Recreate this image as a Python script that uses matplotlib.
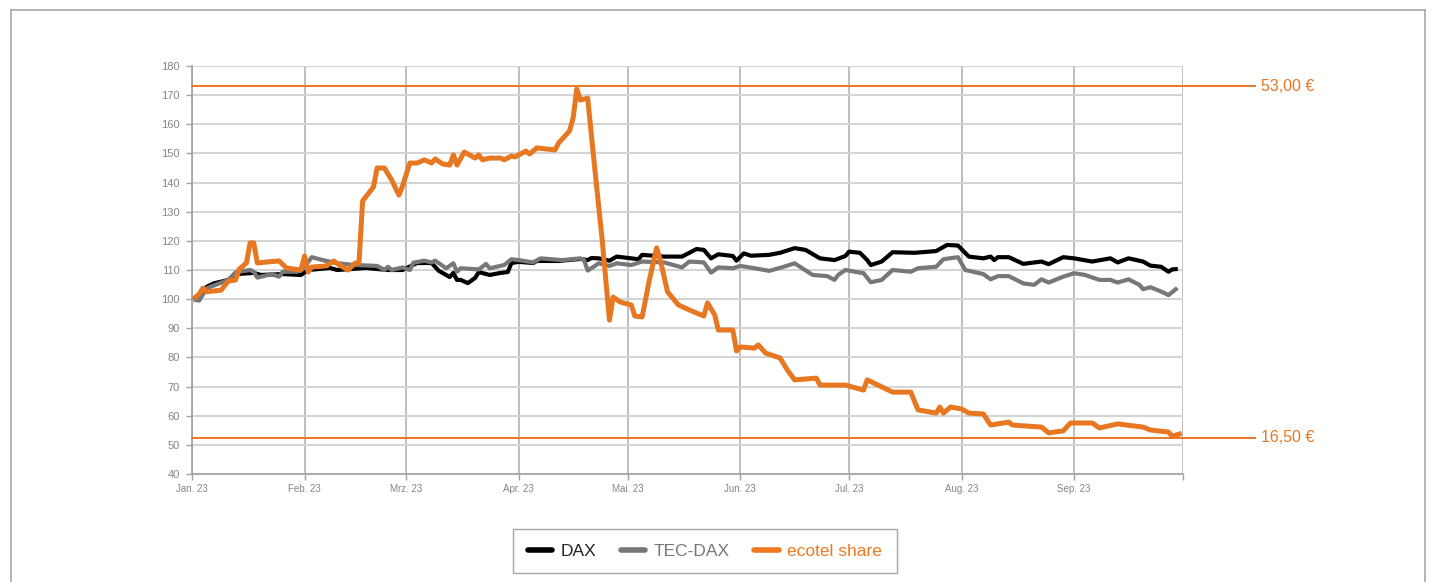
import numpy as np
import pandas as pd
import matplotlib
matplotlib.use("Agg")
import matplotlib.pyplot as plt
from matplotlib.lines import Line2D

# day offsets from 2023-01-01 and index values (start = 100)
dax_days = [1, 4, 6, 10, 12, 17, 19, 25, 30, 32, 38, 40, 48, 54, 58, 62, 66, 68, 71, 72,
            73, 74, 76, 78, 79, 82, 85, 87, 88, 90, 94, 95, 101, 107, 109, 110, 112, 115,
            117, 123, 124, 130, 135, 139, 141, 143, 145, 149, 150, 152, 154, 159, 162, 166,
            169, 173, 177, 180, 181, 184, 186, 187, 190, 193, 199, 205, 208, 211, 214, 218,
            220, 221, 222, 225, 229, 234, 236, 240, 243, 248, 253, 255, 258, 262, 264, 267,
            269, 270, 271]
dax_vals = [100.3, 104.2, 105.4, 106.6, 108.6, 109.0, 108.3, 108.6, 108.3, 110.0, 110.7,
            110.0, 110.7, 110.0, 110.0, 112.4, 112.4, 109.7, 107.6, 109.0, 106.6, 106.6,
            105.5, 107.3, 109.3, 108.3, 109.0, 109.3, 112.4, 112.8, 112.4, 113.1, 113.1,
            113.8, 113.4, 114.1, 114.0, 113.2, 114.6, 113.7, 115.2, 114.6, 114.6, 117.2,
            116.9, 114.0, 115.4, 114.8, 113.2, 115.7, 114.9, 115.2, 115.9, 117.5, 116.9,
            114.0, 113.4, 114.8, 116.3, 115.9, 113.4, 111.7, 112.9, 116.1, 115.9, 116.5,
            118.6, 118.4, 114.6, 114.0, 114.6, 113.4, 114.4, 114.4, 112.1, 112.9, 112.0,
            114.4, 114.0, 112.9, 114.0, 112.6, 114.0, 112.9, 111.5, 111.1, 109.4, 110.2,
            110.3]

tec_days = [1, 2, 4, 10, 12, 16, 17, 18, 22, 24, 25, 29, 31, 33, 36, 40, 45, 51, 53, 54,
            55, 58, 60, 61, 64, 66, 67, 70, 72, 73, 74, 79, 81, 82, 86, 88, 90, 94, 96,
            102, 107, 108, 109, 111, 112, 115, 117, 121, 124, 130, 135, 137, 141, 143, 145,
            149, 151, 155, 159, 163, 166, 171, 175, 177, 178, 180, 184, 185, 187, 190, 193,
            198, 200, 205, 207, 211, 213, 218, 220, 222, 225, 229, 232, 234, 236, 240, 243,
            246, 250, 253, 255, 258, 261, 262, 264, 267, 269, 271]
tec_vals = [99.7, 99.5, 103.7, 106.6, 109.2, 110.0, 109.4, 107.4, 108.6, 107.7, 109.4,
            109.4, 111.1, 114.4, 113.4, 112.3, 111.7, 111.4, 110.0, 111.1, 110.0, 110.9,
            110.0, 112.5, 113.2, 112.6, 113.2, 110.6, 112.3, 109.4, 110.6, 110.2, 112.1,
            110.6, 111.7, 113.7, 113.4, 112.6, 114.0, 113.4, 114.0, 113.4, 109.8, 111.4,
            112.3, 111.4, 112.3, 111.7, 112.9, 112.6, 110.9, 112.9, 112.6, 109.1, 110.9,
            110.6, 111.4, 110.6, 109.7, 111.1, 112.3, 108.3, 107.9, 106.6, 108.3, 110.0,
            109.1, 108.9, 105.8, 106.6, 110.0, 109.4, 110.6, 111.1, 113.7, 114.4, 110.0,
            108.6, 106.8, 107.9, 107.9, 105.4, 104.9, 106.8, 105.7, 107.7, 108.9, 108.3,
            106.6, 106.6, 105.7, 106.8, 104.9, 103.4, 104.1, 102.6, 101.4, 103.4]

eco_days = [1, 2, 3, 4, 6, 8, 10, 12, 13, 15, 16, 17, 18, 21, 24, 26, 30, 31, 32, 33, 37,
            39, 41, 43, 45, 46, 47, 50, 51, 53, 55, 57, 58, 60, 62, 64, 66, 67, 69, 71, 72,
            73, 75, 77, 78, 79, 80, 82, 85, 86, 88, 89, 90, 92, 93, 95, 100, 101, 104, 105,
            106, 107, 109, 111, 113, 115, 116, 118, 121, 122, 124, 126, 128, 129, 131, 134,
            137, 141, 142, 144, 145, 149, 150, 151, 155, 156, 158, 162, 164, 166, 172, 173,
            177, 180, 185, 186, 193, 198, 200, 205, 206, 207, 209, 212, 214, 218, 220, 225,
            226, 234, 236, 240, 242, 248, 250, 255, 262, 264, 269, 270, 272]
eco_vals = [100.7, 101.8, 103.8, 102.5, 102.8, 103.1, 106.2, 106.6, 110.3, 112.4, 119.3,
            119.3, 112.4, 112.8, 113.1, 110.7, 110.0, 114.8, 109.3, 111.0, 111.4, 113.1,
            111.4, 110.0, 112.4, 112.4, 133.7, 138.5, 145.0, 145.0, 140.9, 135.7, 138.8,
            146.7, 146.7, 147.8, 146.7, 148.1, 146.4, 146.0, 149.5, 146.0, 150.5, 149.1,
            148.4, 149.5, 147.8, 148.4, 148.4, 147.8, 149.1, 148.8, 149.5, 150.8, 149.8,
            151.9, 151.2, 153.6, 157.7, 162.2, 172.1, 168.3, 169.0, 144.3, 120.3, 92.8,
            100.7, 99.0, 98.0, 94.2, 93.9, 106.6, 117.6, 113.4, 102.5, 98.0, 96.3, 94.2,
            98.7, 94.6, 89.4, 89.4, 82.2, 83.6, 83.2, 84.3, 81.5, 79.8, 75.7, 72.3, 72.9,
            70.5, 70.5, 70.5, 68.8, 72.3, 68.1, 68.1, 62.0, 60.9, 63.0, 60.9, 63.0, 62.3,
            60.9, 60.6, 56.8, 57.8, 56.8, 56.1, 54.1, 54.8, 57.5, 57.5, 55.8, 57.2, 56.1,
            55.1, 54.4, 53.0, 53.7]

price_levels = [173.1, 52.4]
price_labels = ["53,00 €", "16,50 €"]
month_labels = ["Jan. 23", "Feb. 23", "Mrz. 23", "Apr. 23", "Mai. 23", "Jun. 23",
                "Jul. 23", "Aug. 23", "Sep. 23"]

start = pd.Timestamp("2023-01-01")
to_dates = lambda d: start + pd.to_timedelta(d, unit="D")

orange = "#E87722"
grey = "#777777"
tick_col = "#858585"

fig = plt.figure(figsize=(14.36, 5.82), dpi=100)
ax = fig.add_axes([192/1436, 1-474/582, 991/1436, 408/582])

ax.plot(to_dates(dax_days), dax_vals, color="black", lw=3.0, solid_joinstyle="round", zorder=3)
ax.plot(to_dates(tec_days), tec_vals, color=grey, lw=3.0, solid_joinstyle="round", zorder=3)
ax.plot(to_dates(eco_days), eco_vals, color=orange, lw=3.6, solid_joinstyle="round", zorder=4)

for lvl, lab in zip(price_levels, price_labels):
    ax.axhline(lvl, xmin=0, xmax=1.073, color=orange, lw=1.4, clip_on=False, zorder=5)
    ax.text(1.079, lvl, lab, transform=ax.get_yaxis_transform(), color=orange,
            fontsize=11.5, va="center", ha="left", family="Liberation Sans")

ax.set_ylim(40, 180)
ax.set_yticks(np.arange(40, 181, 10))
ax.set_xlim(start, pd.Timestamp("2023-10-01"))
ticks = pd.date_range("2023-01-01", "2023-10-01", freq="MS")
ax.set_xticks(ticks)
ax.set_xticklabels(month_labels + [""])

ax.grid(axis="y", color="#d4d4d4", lw=1.5, zorder=0)
ax.grid(axis="x", color="#b9b9b9", lw=1.3, zorder=0)
for s in ["top", "right"]:
    ax.spines[s].set_visible(False)
for s in ["left", "bottom"]:
    ax.spines[s].set_color("#a0a0a0")
    ax.spines[s].set_linewidth(1.2)
ax.tick_params(axis="both", colors="#a0a0a0", length=4, width=1)
ax.tick_params(axis="y", labelsize=8, labelcolor=tick_col, pad=5)
ax.tick_params(axis="x", labelsize=7, labelcolor=tick_col, pad=3)
for t in ax.get_xticklabels() + ax.get_yticklabels():
    t.set_family("Liberation Sans")

# outer frame
for xs, ys in [([11/1436, 11/1436], [-0.1, 1-10/582]),
               ([11/1436, 1425/1436], [1-10/582, 1-10/582]),
               ([1425/1436, 1425/1436], [-0.1, 1-10/582])]:
    fig.add_artist(Line2D(xs, ys, color="#a8a8a8", lw=1.2))

handles = [Line2D([], [], color="black", lw=4, solid_capstyle="round"),
           Line2D([], [], color=grey, lw=4, solid_capstyle="round"),
           Line2D([], [], color="#F07820", lw=4, solid_capstyle="round")]
leg = fig.legend(handles, ["DAX", "TEC-DAX", "ecotel share"], loc="center",
                 bbox_to_anchor=(705/1436, 1-551/582), ncol=3,
                 handlelength=1.4, handletextpad=0.5, columnspacing=1.4,
                 fancybox=False, edgecolor="#909090", borderpad=0.85,
                 prop={"family": "Liberation Sans", "size": 12.5})
leg.get_frame().set_linewidth(1.0)
for txt, c in zip(leg.get_texts(), ["#222222", grey, "#F07820"]):
    txt.set_color(c)

fig.savefig("out.png", dpi=100)
